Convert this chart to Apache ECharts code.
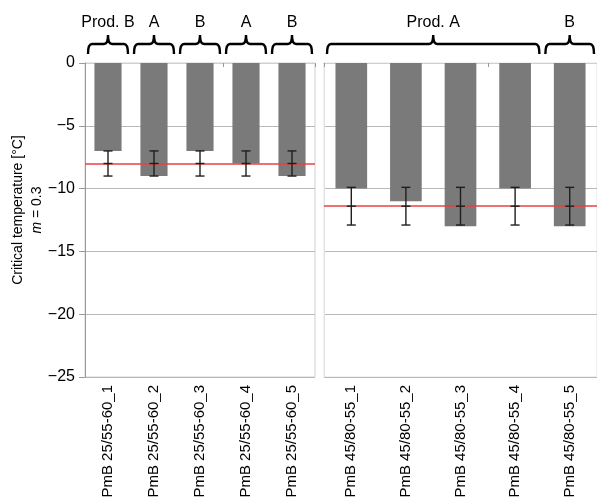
<!DOCTYPE html>
<html>
<head>
<meta charset="utf-8">
<script src="https://cdn.jsdelivr.net/npm/echarts@6/dist/echarts.min.js"></script>
<style>
  html, body { margin: 0; padding: 0; background: #fff; }
  #chart { width: 597px; height: 503px; }
</style>
</head>
<body>
<div id="chart"></div>
<script>
// categories
const leftCats  = ['PmB 25/55-60_1', 'PmB 25/55-60_2', 'PmB 25/55-60_3', 'PmB 25/55-60_4', 'PmB 25/55-60_5'];
const rightCats = ['PmB 45/80-55_1', 'PmB 45/80-55_2', 'PmB 45/80-55_3', 'PmB 45/80-55_4', 'PmB 45/80-55_5'];

// critical temperatures [°C]
const leftValues  = [-7, -9, -7, -8, -9];
const rightValues = [-10, -11, -13, -10, -13];

// mean line and error range (mean ± sd) per panel
const leftMean  = -8;
const leftErr   = [-9, -7];
const rightMean = -11.4;
const rightErr  = [-12.9, -9.9];

// product brackets: [first, last] category index + label
const leftGroups       = [[0, 0], [1, 1], [2, 2], [3, 3], [4, 4]];
const leftGroupLabels  = ['Prod. B', 'A', 'B', 'A', 'B'];
const rightGroups      = [[0, 3], [4, 4]];
const rightGroupLabels = ['Prod. A', 'B'];

// y axis
const yMin = -25, yMax = 0, yStep = 5;

const FONT = 'Liberation Sans, Arial, sans-serif';
const BAR_COLOR = '#7a7a7a';
const GRID_COLOR = '#b8b8b8';

const chart = echarts.init(document.getElementById('chart'), null, { renderer: 'canvas' });

const minus = v => String(v).replace('-', '\u2212');

function errorSeries(axisIdx, n, err, mean) {
  const data = [];
  for (let i = 0; i < n; i++) data.push([i, err[0], err[1], mean]);
  return {
    type: 'custom',
    xAxisIndex: axisIdx, yAxisIndex: axisIdx,
    z: 5,
    data,
    encode: { x: 0, y: [1, 2] },
    renderItem(params, api) {
      const x  = api.coord([api.value(0), 0])[0];
      const lo = api.coord([api.value(0), api.value(1)])[1];
      const hi = api.coord([api.value(0), api.value(2)])[1];
      const md = api.coord([api.value(0), api.value(3)])[1];
      const w = 4.5;
      const st = { stroke: '#1e1e1e', lineWidth: 1.4 };
      return {
        type: 'group',
        children: [
          { type: 'line', shape: { x1: x, y1: lo, x2: x, y2: hi }, style: st },
          { type: 'line', shape: { x1: x - w, y1: lo, x2: x + w, y2: lo }, style: st },
          { type: 'line', shape: { x1: x - w, y1: hi, x2: x + w, y2: hi }, style: st },
          { type: 'line', shape: { x1: x - w, y1: md, x2: x + w, y2: md }, style: st },
        ],
      };
    },
  };
}

function braceSeries(axisIdx, groups, labels) {
  return {
    type: 'custom',
    xAxisIndex: axisIdx, yAxisIndex: axisIdx,
    clip: false,
    silent: true,
    z: 10,
    data: groups.map(g => [g[0], g[1]]),
    encode: { x: [0, 1] },
    renderItem(params, api) {
      const band = api.size([1, 0])[0];
      const y0 = api.coord([0, 0])[1];
      const x1 = api.coord([api.value(0), 0])[0] - band / 2 + 3;
      const x2 = api.coord([api.value(1), 0])[0] + band / 2 - 3;
      const xm = (x1 + x2) / 2;
      const yEnd = y0 - 9, yH = y0 - 19, yPk = y0 - 28, r = 4;
      const d = `M${x1},${yEnd} Q${x1},${yH} ${x1 + r},${yH} L${xm - r},${yH} ` +
                `Q${xm},${yH} ${xm},${yPk} Q${xm},${yH} ${xm + r},${yH} ` +
                `L${x2 - r},${yH} Q${x2},${yH} ${x2},${yEnd}`;
      return {
        type: 'group',
        children: [
          { type: 'path', shape: { pathData: d },
            style: { fill: null, stroke: '#000', lineWidth: 2.4 } },
          { type: 'text', x: xm, y: y0 - 40,
            style: { text: labels[params.dataIndex], fill: '#000', font: `16px ${FONT}`,
                     align: 'center', verticalAlign: 'middle' } },
        ],
      };
    },
  };
}

function meanLine(value) {
  return {
    silent: true,
    symbol: 'none',
    label: { show: false },
    lineStyle: { color: '#e84040', width: 1.5, type: 'solid' },
    data: [{ yAxis: value }],
  };
}

const bottomX = (cats, idx) => ({
  type: 'category', gridIndex: idx, data: cats, position: 'bottom',
  axisLine: { show: true, lineStyle: { color: GRID_COLOR } },
  axisTick: { show: false },
  axisLabel: { rotate: 90, fontSize: 15, fontFamily: FONT, color: '#000', margin: 8, interval: 0 },
});
const topX = (cats, idx) => ({
  type: 'category', gridIndex: idx, data: cats, position: 'top',
  axisLine: { show: true, lineStyle: { color: '#d0d0d0' } },
  axisTick: { show: true, inside: true, length: 4, lineStyle: { color: '#999' } },
  axisLabel: { show: false },
});

const option = {
  animation: false,
  backgroundColor: '#fff',
  grid: [
    { left: 85, top: 63, width: 230, bottom: 126, show: true, borderColor: '#cfcfcf', borderWidth: 1 },
    { left: 324, top: 63, width: 277, bottom: 126, show: true, borderColor: '#e2e2e2', borderWidth: 1 },
  ],
  xAxis: [
    bottomX(leftCats, 0),
    bottomX(rightCats, 1),
    topX(leftCats, 0),
    topX(rightCats, 1),
  ],
  yAxis: [
    {
      type: 'value', gridIndex: 0, min: yMin, max: yMax, interval: yStep,
      name: '{t|Critical temperature [°C]}\n{i|m}{t| = 0.3}',
      nameLocation: 'middle', nameRotate: 90, nameGap: 38,
      nameTextStyle: {
        padding: [0, 0, 0, 20],
        rich: {
          t: { fontSize: 14, fontFamily: FONT, color: '#000', lineHeight: 19 },
          i: { fontSize: 14, fontFamily: FONT, color: '#000', fontStyle: 'italic', lineHeight: 19 },
        },
      },
      axisLine: { show: true, lineStyle: { color: '#9a9a9a' } },
      axisTick: { show: true, length: 6, lineStyle: { color: '#9a9a9a' } },
      axisLabel: { fontSize: 16, fontFamily: FONT, color: '#000', margin: 10, formatter: minus },
      splitLine: { lineStyle: { color: GRID_COLOR } },
    },
    {
      type: 'value', gridIndex: 1, min: yMin, max: yMax, interval: yStep,
      axisLine: { show: true, lineStyle: { color: '#e2e2e2' } },
      axisTick: { show: false },
      axisLabel: { show: false },
      splitLine: { lineStyle: { color: GRID_COLOR } },
    },
  ],
  series: [
    {
      type: 'bar', xAxisIndex: 0, yAxisIndex: 0, data: leftValues, barWidth: '59%',
      itemStyle: { color: BAR_COLOR }, markLine: meanLine(leftMean),
    },
    {
      type: 'bar', xAxisIndex: 1, yAxisIndex: 1, data: rightValues, barWidth: '58%',
      itemStyle: { color: BAR_COLOR }, markLine: meanLine(rightMean),
    },
    errorSeries(0, leftValues.length, leftErr, leftMean),
    errorSeries(1, rightValues.length, rightErr, rightMean),
    braceSeries(0, leftGroups, leftGroupLabels),
    braceSeries(1, rightGroups, rightGroupLabels),
  ],
};

chart.setOption(option);
</script>
</body>
</html>
